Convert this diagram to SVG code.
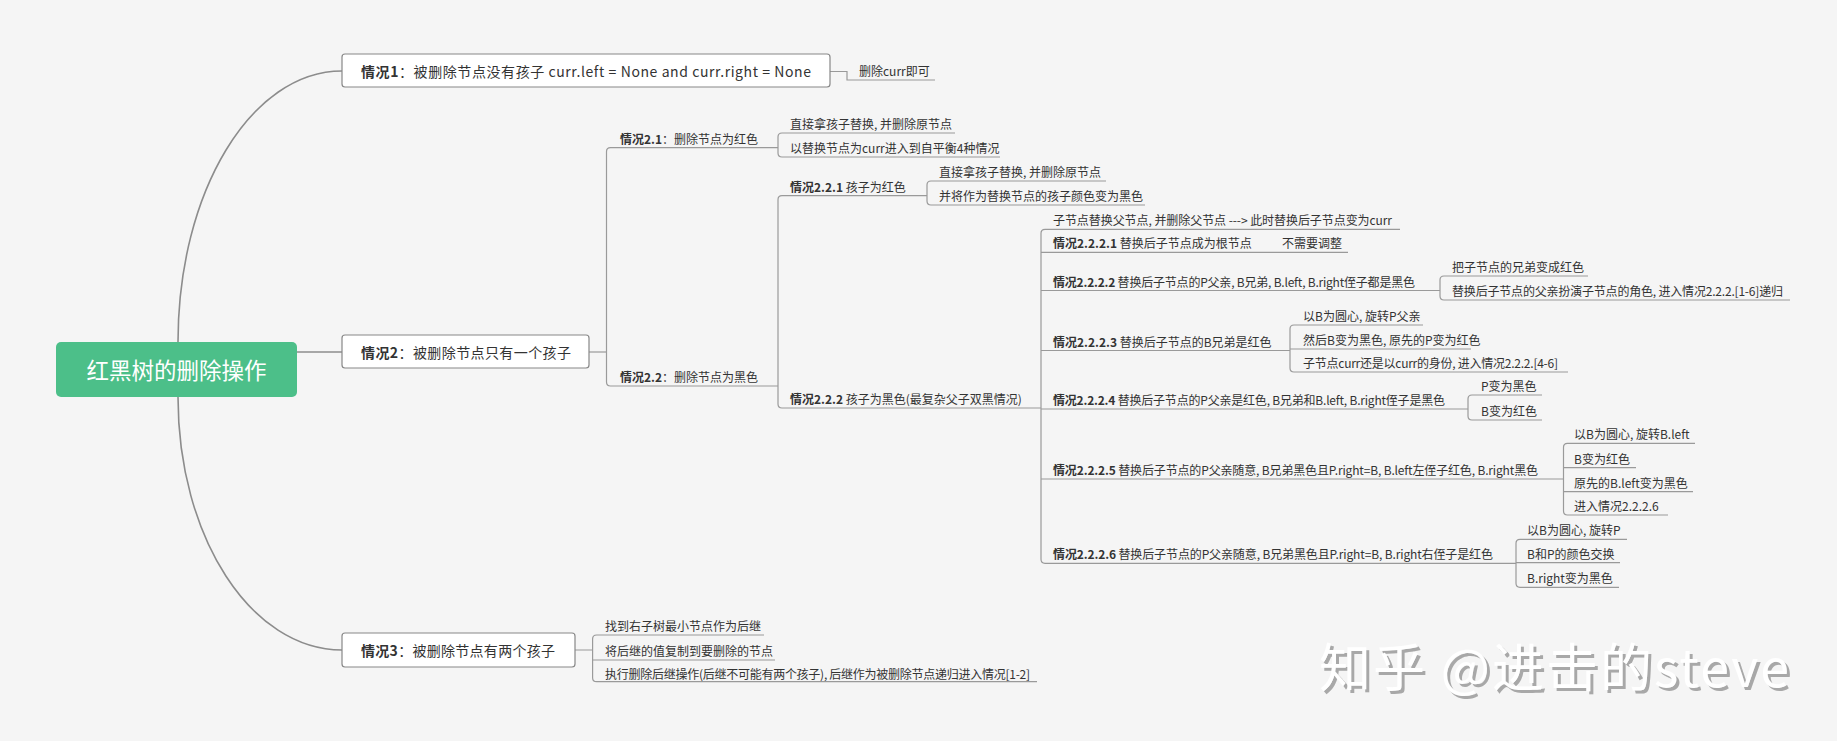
<svg xmlns="http://www.w3.org/2000/svg" width="1837" height="741" viewBox="0 0 1837 741">
<defs>
<style>
text{font-family:"Noto Sans CJK SC","Noto Sans",sans-serif;fill:#333}
.t14{font-size:14px}
.t12{font-size:12px}
.b{font-weight:bold}
.box{fill:#fff;stroke:#888;stroke-width:1.2}
.ln{fill:none;stroke:#9a9a9a;stroke-width:1.2}
.cv{fill:none;stroke:#8c8c8c;stroke-width:1.6}
.root{fill:#4cbf89}
.rt{font-size:22.5px;fill:#fff}
.wm{font-size:52px;fill:#fff}
</style>
<filter id="sh" x="-5%" y="-20%" width="110%" height="140%">
<feDropShadow dx="3" dy="3" stdDeviation="0.6" flood-color="#a8a8a8" flood-opacity="1"/>
</filter>
</defs>
<rect width="1837" height="741" fill="#f5f5f5"/>

<g id="connectors">
<path class="cv" d="M178,342 C178,192 251,71 342,71"/>
<path class="cv" d="M178,397 C178,537 251,650 342,650"/>
<path class="cv" d="M297,352 H342"/>
<path class="ln" d="M830,71.5 H847 V80 H935"/>
<path class="ln" d="M589,352 H606.5"/>
<path class="ln" d="M778,147.7 H610.5 Q606.5,147.7 606.5,151.7 V382 Q606.5,386 610.5,386 H778"/>
<path class="ln" d="M955,133 H782 Q778,133 778,137 V153 Q778,157 782,157 H1000"/>
<path class="ln" d="M927,195.7 H782 Q778,195.7 778,199.7 V404 Q778,408 782,408 H1041"/>
<path class="ln" d="M1106,181 H931 Q927,181 927,185 V201 Q927,205 931,205 H1145"/>
<path class="ln" d="M1400,229.3 H1045 Q1041,229.3 1041,233.3 V559.3 Q1041,563.3 1045,563.3 H1516"/>
<path class="ln" d="M1041,252.3 H1348 M1041,290.5 H1440 M1041,350.5 H1290 M1041,409 H1468 M1041,479 H1563.5"/>
<path class="ln" d="M1588,276 H1444 Q1440,276 1440,280 V296 Q1440,300 1444,300 H1790"/>
<path class="ln" d="M1423,325 H1294 Q1290,325 1290,329 V368 Q1290,372 1294,372 H1568 M1290,349 H1471"/>
<path class="ln" d="M1542,395 H1472 Q1468,395 1468,399 V416 Q1468,420 1472,420 H1542"/>
<path class="ln" d="M1695,443.3 H1567.5 Q1563.5,443.3 1563.5,447.3 V511 Q1563.5,515 1567.5,515 H1668 M1563.5,467.7 H1636 M1563.5,491.7 H1693"/>
<path class="ln" d="M1627,539.3 H1520 Q1516,539.3 1516,543.3 V583.3 Q1516,587.3 1520,587.3 H1619 M1516,562.7 H1620"/>
<path class="ln" d="M575,650 H592.6 M764,635 H596.6 Q592.6,635 592.6,639 V677.7 Q592.6,681.7 596.6,681.7 H1037 M592.6,660 H775"/>
</g>

<g id="root">
<rect class="root" x="56" y="342" width="241" height="55" rx="5"/>
<text class="rt" x="176.5" y="379" text-anchor="middle">红黑树的删除操作</text>
</g>

<g id="case1">
<rect class="box" x="342" y="54" width="488" height="33" rx="3"/>
<text class="t14" x="361" y="77" textLength="450"><tspan class="b">情况1</tspan>：被删除节点没有孩子 curr.left = None and curr.right = None</text>
</g>
<g id="case1-a"><text class="t12" x="859" y="76">删除curr即可</text></g>

<g id="case2">
<rect class="box" x="342" y="335" width="247" height="33" rx="3"/>
<text class="t14" x="361" y="357.5" textLength="210"><tspan class="b">情况2</tspan>：被删除节点只有一个孩子</text>
</g>
<g id="case2-1"><text class="t12" x="620" y="143.5"><tspan class="b">情况2.1</tspan>：删除节点为红色</text></g>
<g id="case2-1-a"><text class="t12" x="790" y="129">直接拿孩子替换, 并删除原节点</text></g>
<g id="case2-1-b"><text class="t12" x="790" y="153">以替换节点为curr进入到自平衡4种情况</text></g>
<g id="case2-2"><text class="t12" x="620" y="382"><tspan class="b">情况2.2</tspan>：删除节点为黑色</text></g>
<g id="case2-2-1"><text class="t12" x="790" y="191.5"><tspan class="b">情况2.2.1</tspan> 孩子为红色</text></g>
<g id="case2-2-1-a"><text class="t12" x="939" y="177">直接拿孩子替换, 并删除原节点</text></g>
<g id="case2-2-1-b"><text class="t12" x="939" y="201">并将作为替换节点的孩子颜色变为黑色</text></g>
<g id="case2-2-2"><text class="t12" x="790" y="404"><tspan class="b">情况2.2.2</tspan> 孩子为黑色(最复杂父子双黑情况)</text></g>
<g id="case2-2-2-0"><text class="t12" x="1053" y="225.3" textLength="339">子节点替换父节点, 并删除父节点 ---&gt; 此时替换后子节点变为curr</text></g>
<g id="case2-2-2-1"><text class="t12" x="1053" y="248.3"><tspan class="b">情况2.2.2.1</tspan> 替换后子节点成为根节点</text></g>
<g id="case2-2-2-1-a"><text class="t12" x="1282" y="248.3">不需要调整</text></g>
<g id="case2-2-2-2"><text class="t12" x="1053" y="286.5" textLength="362"><tspan class="b">情况2.2.2.2</tspan> 替换后子节点的P父亲, B兄弟, B.left, B.right侄子都是黑色</text></g>
<g id="case2-2-2-2-a"><text class="t12" x="1452" y="272">把子节点的兄弟变成红色</text></g>
<g id="case2-2-2-2-b"><text class="t12" x="1452" y="296" textLength="331">替换后子节点的父亲扮演子节点的角色, 进入情况2.2.2.[1-6]递归</text></g>
<g id="case2-2-2-3"><text class="t12" x="1053" y="346.5"><tspan class="b">情况2.2.2.3</tspan> 替换后子节点的B兄弟是红色</text></g>
<g id="case2-2-2-3-a"><text class="t12" x="1303" y="321">以B为圆心, 旋转P父亲</text></g>
<g id="case2-2-2-3-b"><text class="t12" x="1303" y="345">然后B变为黑色, 原先的P变为红色</text></g>
<g id="case2-2-2-3-c"><text class="t12" x="1303" y="368" textLength="255">子节点curr还是以curr的身份, 进入情况2.2.2.[4-6]</text></g>
<g id="case2-2-2-4"><text class="t12" x="1053" y="405" textLength="392"><tspan class="b">情况2.2.2.4</tspan> 替换后子节点的P父亲是红色, B兄弟和B.left, B.right侄子是黑色</text></g>
<g id="case2-2-2-4-a"><text class="t12" x="1481" y="391">P变为黑色</text></g>
<g id="case2-2-2-4-b"><text class="t12" x="1481" y="416">B变为红色</text></g>
<g id="case2-2-2-5"><text class="t12" x="1053" y="475" textLength="485"><tspan class="b">情况2.2.2.5</tspan> 替换后子节点的P父亲随意, B兄弟黑色且P.right=B, B.left左侄子红色, B.right黑色</text></g>
<g id="case2-2-2-5-a"><text class="t12" x="1574" y="439.3">以B为圆心, 旋转B.left</text></g>
<g id="case2-2-2-5-b"><text class="t12" x="1574" y="463.7">B变为红色</text></g>
<g id="case2-2-2-5-c"><text class="t12" x="1574" y="487.7">原先的B.left变为黑色</text></g>
<g id="case2-2-2-5-d"><text class="t12" x="1574" y="511">进入情况2.2.2.6</text></g>
<g id="case2-2-2-6"><text class="t12" x="1053" y="559.3" textLength="440"><tspan class="b">情况2.2.2.6</tspan> 替换后子节点的P父亲随意, B兄弟黑色且P.right=B, B.right右侄子是红色</text></g>
<g id="case2-2-2-6-a"><text class="t12" x="1527" y="535.3">以B为圆心, 旋转P</text></g>
<g id="case2-2-2-6-b"><text class="t12" x="1527" y="558.7">B和P的颜色交换</text></g>
<g id="case2-2-2-6-c"><text class="t12" x="1527" y="583.3">B.right变为黑色</text></g>

<g id="case3">
<rect class="box" x="342" y="633" width="233" height="34" rx="3"/>
<text class="t14" x="361" y="655.5" textLength="194"><tspan class="b">情况3</tspan>：被删除节点有两个孩子</text>
</g>
<g id="case3-a"><text class="t12" x="605" y="631">找到右子树最小节点作为后继</text></g>
<g id="case3-b"><text class="t12" x="605" y="656">将后继的值复制到要删除的节点</text></g>
<g id="case3-c"><text class="t12" x="605" y="678.5" textLength="425">执行删除后继操作(后继不可能有两个孩子), 后继作为被删除节点递归进入情况[1-2]</text></g>

<g id="watermark">
<text class="wm" x="1319" y="687" textLength="470" filter="url(#sh)">知乎 @进击的steve</text>
</g>
</svg>
